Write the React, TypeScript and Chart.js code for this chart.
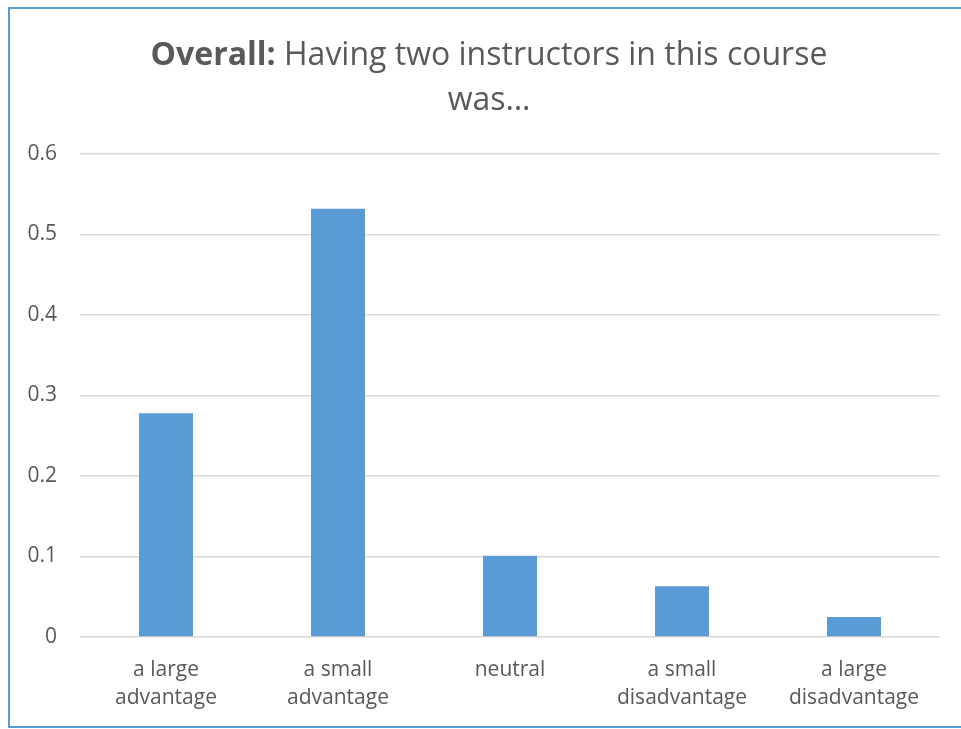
import React, { useEffect, useRef } from "react";
import { Chart, registerables } from "chart.js";

Chart.register(...registerables);

const categories: string[][] = [
  ["a large", "advantage"],
  ["a small", "advantage"],
  ["neutral"],
  ["a small", "disadvantage"],
  ["a large", "disadvantage"],
];
const shares: number[] = [0.278, 0.532, 0.101, 0.063, 0.025];
const yTicks: number[] = [0, 0.1, 0.2, 0.3, 0.4, 0.5, 0.6];
const titleBold = "Overall:";
const titleRest = " Having two instructors in this course";
const titleLine2 = "was…";

const BAR = "#5b9bd5";
const TEXT = "#595959";
const GRID = "#d9d9d9";
const FONT = '"Open Sans", "Noto Sans", sans-serif';
const TITLE_SIZE = 32;

const titlePlugin = {
  id: "mixedTitle",
  afterDraw(chart: any) {
    const ctx = chart.ctx as CanvasRenderingContext2D;
    const cx = chart.width / 2;
    ctx.save();
    ctx.fillStyle = TEXT;
    ctx.textBaseline = "alphabetic";
    const bold = `bold ${TITLE_SIZE}px ${FONT}`;
    const norm = `${TITLE_SIZE}px ${FONT}`;
    ctx.font = bold;
    const w1 = ctx.measureText(titleBold).width;
    ctx.font = norm;
    const w2 = ctx.measureText(titleRest).width;
    const x0 = cx - (w1 + w2) / 2;
    ctx.textAlign = "left";
    ctx.font = bold;
    ctx.fillText(titleBold, x0, 56);
    ctx.font = norm;
    ctx.fillText(titleRest, x0 + w1, 56);
    ctx.textAlign = "center";
    ctx.fillText(titleLine2, cx, 101);
    ctx.restore();
  },
};

export default function App() {
  const ref = useRef<HTMLCanvasElement | null>(null);
  useEffect(() => {
    let chart: Chart | null = null;
    let cancelled = false;
    const make = () => {
      if (cancelled || !ref.current) return;
      chart = new Chart(ref.current, {
        type: "bar",
        data: {
          labels: categories,
          datasets: [
            {
              data: shares,
              backgroundColor: BAR,
              borderWidth: 0,
              categoryPercentage: 1,
              barPercentage: 0.314,
            },
          ],
        },
        options: {
          animation: false,
          responsive: false,
          maintainAspectRatio: false,
          layout: { padding: { top: 145, left: 0, right: 28, bottom: 0 } },
          plugins: {
            legend: { display: false },
            title: { display: false },
            tooltip: { enabled: false },
          },
          scales: {
            x: {
              grid: { display: false, drawTicks: false },
              border: { display: false },
              ticks: {
                color: TEXT,
                font: { family: FONT, size: 21, lineHeight: 1.33 },
                padding: 19,
                maxRotation: 0,
                autoSkip: false,
              },
              afterFit: (s: any) => {
                s.height = 89;
              },
            },
            y: {
              min: 0,
              max: 0.6,
              afterBuildTicks: (s: any) => {
                s.ticks = yTicks.map((v) => ({ value: v }));
              },
              grid: { color: GRID, lineWidth: 1.5, drawTicks: false },
              border: { display: false },
              ticks: {
                color: TEXT,
                font: { family: FONT, size: 21 },
                padding: 23,
                callback: (v: any) => String(Number(v)),
              },
              afterFit: (s: any) => {
                s.width = 70;
              },
            },
          },
        },
        plugins: [titlePlugin],
      });
    };
    const fontsReady = (document as any).fonts
      ? Promise.all([
          (document as any).fonts.load(`20px "Open Sans"`),
          (document as any).fonts.load(`bold 20px "Open Sans"`),
        ]).catch(() => null)
      : Promise.resolve(null);
    fontsReady.then(make);
    return () => {
      cancelled = true;
      if (chart) chart.destroy();
    };
  }, []);

  return (
    <div
      style={{
        position: "fixed",
        left: 0,
        top: 0,
        width: 961,
        height: 729,
        overflow: "hidden",
        background: "#ffffff",
      }}
    >
      <div
        style={{
          position: "absolute",
          left: 8,
          top: 7,
          width: 958,
          height: 717,
          border: `2px solid ${BAR}`,
          background: "#ffffff",
        }}
      >
        <canvas ref={ref} width={958} height={717} style={{ display: "block" }} />
      </div>
    </div>
  );
}
